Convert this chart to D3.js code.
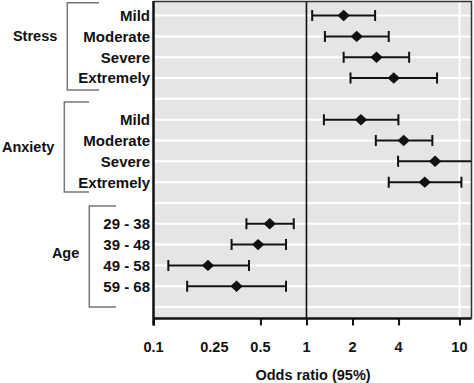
<!DOCTYPE html>
<html><head><meta charset="utf-8">
<script src="https://cdn.jsdelivr.net/npm/d3@7"></script>
<style>
html,body{margin:0;padding:0;background:#fff;}
svg{display:block;}
text{font-family:"Liberation Sans",Arial,Helvetica,sans-serif;font-weight:bold;fill:#111;}
</style></head>
<body>
<script>
// ---- data ----
const groups = ["Stress", "Anxiety", "Age"];
const groupRows = [[0,1,2,3],[5,6,7,8],[10,11,12,13]];
const rowLabels = ["Mild","Moderate","Severe","Extremely",
                   "Mild","Moderate","Severe","Extremely",
                   "29 - 38","39 - 48","49 - 58","59 - 68"];
const rowIndex  = [0,1,2,3,5,6,7,8,10,11,12,13];
const oddsRatio = [1.75,2.13,2.87,3.72, 2.27,4.32,6.93,5.93, 0.575,0.483,0.227,0.349];
const ciLow     = [1.09,1.32,1.75,1.94, 1.30,2.84,3.97,3.45, 0.405,0.324,0.125,0.166];
const ciHigh    = [2.81,3.45,4.69,7.14, 3.99,6.65,14.0,10.3, 0.826,0.735,0.421,0.735];
const tickValues = [0.1,0.25,0.5,1,2,4,10];
const tickLabels = ["0.1","0.25","0.5","1","2","4","10"];
const tickMarks  = [0.1,0.5,1,2,4,10];
const gridRows = d3.range(0,15);

// ---- layout ----
const W = 474, H = 383;
const L = 153.5, R = 471, T = 1, B = 318.5;
const svg = d3.select("body").append("svg").attr("width",W).attr("height",H);

const x = d3.scaleLog().domain([0.1, 11.9]).range([L, R]);
const y = d3.scaleLinear().domain([-0.7, 14.55]).range([T, B]);

svg.append("defs").append("clipPath").attr("id","clip")
  .append("rect").attr("x",L).attr("y",T).attr("width",R-L).attr("height",B-T);

// background
svg.append("rect").attr("x",L).attr("y",T).attr("width",R-L).attr("height",B-T)
  .attr("fill","#e3e5e6");

// white gridlines
svg.append("g").selectAll("line").data(gridRows).join("line")
  .attr("x1",L).attr("x2",R).attr("y1",d=>y(d)).attr("y2",d=>y(d))
  .attr("stroke","#fff").attr("stroke-width",2);
svg.append("line").attr("x1",x(10)).attr("x2",x(10)).attr("y1",T).attr("y2",B)
  .attr("stroke","#fff").attr("stroke-width",2);

// reference line at 1
svg.append("line").attr("x1",x(1)).attr("x2",x(1)).attr("y1",T).attr("y2",B)
  .attr("stroke","#111").attr("stroke-width",1.6);

// frame top/right
svg.append("path").attr("d",`M${L},${T+0.5}H${R+0.5}V${B}`)
  .attr("fill","none").attr("stroke","#333").attr("stroke-width",1.5);

// bottom axis
const xAxis = d3.axisBottom(x).tickValues(tickMarks).tickSize(7).tickFormat("");
const ax = svg.append("g").attr("transform",`translate(0,${B})`).call(xAxis);
ax.select(".domain").attr("stroke","#111").attr("stroke-width",2.5).attr("d",`M${L},0H${R+0.5}`);
ax.selectAll(".tick line").attr("stroke","#111").attr("stroke-width",2);
// tick labels
svg.append("g").selectAll("text").data(tickValues).join("text")
  .attr("x",d=>x(d)).attr("y",351.5).attr("text-anchor","middle")
  .attr("font-size",14.5).text((d,i)=>tickLabels[i]);

// left axis line
svg.append("line").attr("x1",L).attr("x2",L).attr("y1",T).attr("y2",B+7)
  .attr("stroke","#111").attr("stroke-width",2.5);

// axis title
svg.append("text").attr("x",313).attr("y",379.5).attr("text-anchor","middle")
  .attr("font-size",14.5).text("Odds ratio (95%)");

// error bars
const rowsData = rowIndex.map((r,i)=>({r, or:oddsRatio[i], lo:ciLow[i], hi:ciHigh[i], label:rowLabels[i]}));
const marks = svg.append("g").attr("clip-path","url(#clip)");
marks.selectAll("line.ci").data(rowsData).join("line").attr("class","ci")
  .attr("x1",d=>x(d.lo)).attr("x2",d=>x(d.hi)).attr("y1",d=>y(d.r)).attr("y2",d=>y(d.r))
  .attr("stroke","#111").attr("stroke-width",2);
const capH = 5.5;
marks.selectAll("line.capl").data(rowsData).join("line").attr("class","capl")
  .attr("x1",d=>x(d.lo)).attr("x2",d=>x(d.lo)).attr("y1",d=>y(d.r)-capH).attr("y2",d=>y(d.r)+capH)
  .attr("stroke","#111").attr("stroke-width",2);
marks.selectAll("line.caph").data(rowsData).join("line").attr("class","caph")
  .attr("x1",d=>x(d.hi)).attr("x2",d=>x(d.hi)).attr("y1",d=>y(d.r)-capH).attr("y2",d=>y(d.r)+capH)
  .attr("stroke","#111").attr("stroke-width",2);
// diamonds
const dm = 6.2;
marks.selectAll("path.pt").data(rowsData).join("path").attr("class","pt")
  .attr("d",d=>{const cx=x(d.or), cy=y(d.r); return `M${cx},${cy-dm*0.92}L${cx+dm},${cy}L${cx},${cy+dm*0.92}L${cx-dm},${cy}Z`;})
  .attr("fill","#111");

// row labels
svg.append("g").selectAll("text").data(rowsData).join("text")
  .attr("x",150).attr("y",d=>y(d.r)).attr("dy","0.36em").attr("text-anchor","end")
  .attr("font-size",15).text(d=>d.label);

// group brackets and labels
const bracketX = [67.3, 64.3, 89.3];
const bracketEnd = [99, 89, 116];
const bracketSpan = [[-0.62,3.57],[4.15,8.48],[9.15,14.0]];
const labelRow = [0.95, 6.3, 11.4];
groups.forEach((g,i)=>{
  const y0 = y(bracketSpan[i][0]), y1 = y(bracketSpan[i][1]);
  svg.append("path").attr("d",`M${bracketEnd[i]},${y0}H${bracketX[i]}V${y1}H${bracketEnd[i]}`)
    .attr("fill","none").attr("stroke","#777").attr("stroke-width",1.5);
  svg.append("text").attr("x",bracketX[i]-10).attr("y",y(labelRow[i])).attr("dy","0.36em")
    .attr("text-anchor","end").attr("font-size",14.5).text(g);
});
</script>
</body></html>
